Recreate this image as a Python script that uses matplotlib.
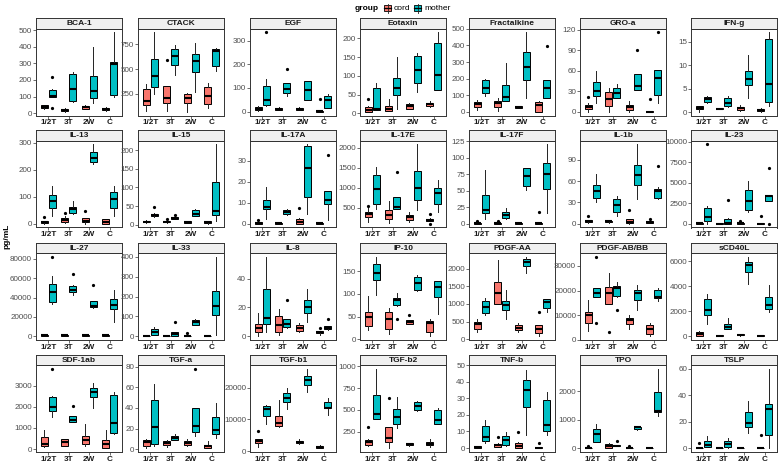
import numpy as np
import matplotlib.pyplot as plt
from matplotlib.patches import Rectangle
from matplotlib.lines import Line2D

plt.rcParams['font.family'] = ['Liberation Sans', 'DejaVu Sans']

times = ['1/2T', '3T', '2W', 'C']
groups = ['cord', 'mother']
colors = ['#F8766D', '#00BFC4']

# box stats per time point: [low whisker, q1, median, q3, high whisker]
# outliers: (time index, group index, value)
bca1_cord = [[28, 33, 40, 47, 52], [10, 12, 22, 28, 30], [25, 28, 38, 44, 50], [14, 18, 28, 34, 40]]
bca1_mother = [[95, 98, 105, 138, 148], [67, 73, 143, 238, 246], [63, 89, 133, 226, 399], [97, 109, 296, 311, 486]]
bca1_out = [(0, 1, 218), (0, 1, 30)]
bca1_ticks = [0, 100, 200, 300, 400, 500]

ctack_cord = [[72, 132, 181, 296, 349], [80, 155, 210, 325, 330], [70, 155, 205, 245, 260], [108, 151, 224, 316, 355]]
ctack_mother = [[245, 320, 434, 605, 870], [440, 540, 630, 700, 745], [265, 470, 580, 655, 765], [480, 535, 680, 705, 710]]
ctack_out = [(1, 0, 590)]
ctack_ticks = [250, 500, 750]

egf_cord = [[3, 7, 12, 18, 24], [5, 7, 12, 17, 20], [5, 8, 12, 15, 18], [0, 0, 1, 4, 5]]
egf_mother = [[24, 28, 49, 110, 138], [66, 77, 96, 119, 122], [49, 49, 91, 128, 128], [17, 17, 49, 66, 76]]
egf_out = [(0, 1, 335), (1, 1, 182), (3, 0, 52)]
egf_ticks = [0, 100, 200, 300]

eotaxin_cord = [[5, 5, 9, 18, 20], [7, 7, 13, 20, 38], [12, 13, 19, 24, 27], [17, 20, 25, 29, 32]]
eotaxin_mother = [[9, 10, 11, 68, 80], [13, 49, 68, 95, 151], [57, 80, 117, 152, 160], [63, 63, 103, 189, 216]]
eotaxin_out = [(0, 0, 39)]
eotaxin_ticks = [0, 50, 100, 150, 200]

fract_cord = [[12, 26, 46, 60, 68], [6, 26, 52, 62, 80], [20, 22, 28, 34, 35], [0, 0, 40, 60, 62]]
fract_mother = [[95, 111, 145, 191, 195], [62, 62, 91, 161, 294], [82, 189, 270, 360, 479], [82, 82, 145, 191, 191]]
fract_out = [(3, 1, 398)]
fract_ticks = [0, 100, 200, 300, 400, 500]

groa_cord = [[0, 4, 6, 10, 12], [0, 8, 19, 29, 34], [0, 3, 7, 10, 16], [0, 0, 0, 1, 1]]
groa_mother = [[13, 23, 30, 44, 59], [20, 20, 27, 34, 41], [32, 32, 37, 55, 55], [13, 25, 49, 61, 61]]
groa_out = [(0, 0, 21), (2, 1, 90), (3, 0, 19), (3, 1, 116)]
groa_ticks = [0, 30, 60, 90, 120]

ifng_cord = [[0.2, 0.7, 0.9, 1.3, 1.3], [0.7, 0.75, 0.8, 0.9, 0.9], [0.35, 0.6, 0.9, 1.2, 1.6], [0.2, 0.4, 0.5, 0.8, 0.9]]
ifng_mother = [[2.0, 2.2, 2.8, 3.2, 3.5], [1.1, 1.4, 2.1, 3.0, 3.6], [3.0, 5.8, 7.1, 8.9, 12.3], [1.4, 2.3, 6.1, 15.6, 17.0]]
ifng_out = []
ifng_ticks = [0, 5, 10, 15]

il13_cord = [[0, 2, 5, 9, 10], [2, 7, 13, 22, 29], [0, 5, 11, 20, 22], [0, 0, 5, 17, 17]]
il13_mother = [[27, 56, 82, 107, 139], [34, 38, 54, 63, 82], [222, 227, 244, 267, 294], [27, 56, 93, 117, 141]]
il13_out = [(0, 0, 23), (1, 0, 41), (2, 0, 47)]
il13_ticks = [0, 100, 200, 300]

il15_cord = [[4, 6, 8, 10, 12], [4, 6, 8, 10, 12], [4, 5, 8, 10, 11], [3, 5, 7, 9, 10]]
il15_mother = [[21, 23, 26, 28, 30], [14, 15, 18, 20, 22], [22, 22, 29, 38, 43], [9, 25, 37, 114, 215]]
il15_out = [(0, 1, 47), (1, 0, 14), (1, 1, 25)]
il15_ticks = [0, 50, 100, 150, 200]

il17a_cord = [[0, 0, 0.4, 0.8, 1.0], [0, 0, 0.05, 0.1, 0.3], [0, 0, 0.6, 2.1, 2.5], [0, 0, 0.1, 0.1, 0.3]]
il17a_mother = [[2.1, 6.9, 8.1, 11.3, 17.3], [4.2, 4.4, 5.6, 6.5, 7.1], [4.5, 12.6, 26.4, 37.0, 37.9], [1.9, 9.2, 11.3, 15.6, 15.6]]
il17a_out = [(0, 0, 1.9), (2, 0, 7.3), (3, 1, 32.7)]
il17a_ticks = [0, 10, 20, 30]

il17e_cord = [[139, 262, 328, 385, 484], [123, 205, 303, 426, 672], [139, 189, 262, 320, 385], [150, 164, 197, 221, 230]]
il17e_mother = [[467, 590, 975, 1328, 1516], [467, 467, 508, 754, 754], [426, 689, 1000, 1410, 2082], [385, 590, 852, 1000, 1189]]
il17e_out = [(0, 0, 549), (1, 1, 1393), (3, 0, 344), (3, 0, 98)]
il17e_ticks = [500, 1000, 1500, 2000]

il17f_cord = [[0, 0, 0.5, 1, 1.5], [0, 0, 0.5, 1, 1.5], [0, 0, 1, 1.5, 2], [0, 0, 0.2, 0.5, 0.8]]
il17f_mother = [[6.5, 15.5, 20.5, 43, 81.5], [6.5, 9, 13, 17.5, 24], [51.5, 56.5, 71.5, 85, 85], [16.5, 53, 75, 91.5, 120]]
il17f_out = [(0, 0, 4), (1, 0, 3.5), (3, 0, 17.5)]
il17f_ticks = [0, 25, 50, 75, 100, 125]

il1b_cord = [[1, 1.9, 3.3, 4.6, 5], [1, 1.9, 3.3, 4.2, 5], [0, 0.5, 2.8, 6, 6.5], [0.5, 0.9, 2.3, 3.7, 5]]
il1b_mother = [[30, 36, 45.6, 54, 70], [10.7, 16.7, 26, 34, 38.6], [34, 54, 68, 83, 111.6], [34, 36, 46.5, 49, 51]]
il1b_out = [(0, 0, 10.7), (2, 0, 19), (3, 0, 6), (3, 1, 80.5)]
il1b_ticks = [0, 30, 60, 90]

il23_cord = [[0, 0, 10, 40, 60], [0, 0, 5, 20, 40], [0, 0, 10, 40, 60], [0, 0, 5, 20, 40]]
il23_mother = [[0, 282, 847, 1935, 2137], [0, 0, 120, 605, 725], [1411, 1653, 2742, 4073, 5161], [2702, 2702, 3427, 3548, 3548]]
il23_out = [(0, 1, 9677), (1, 1, 2862), (2, 0, 322), (3, 0, 900), (3, 1, 6774), (3, 1, 0)]
il23_ticks = [0, 2500, 5000, 7500, 10000]

il27_cord = [[150, 400, 800, 1200, 1500], [200, 500, 900, 1300, 1600], [300, 600, 1100, 1500, 1800], [200, 500, 900, 1300, 1600]]
il27_mother = [[33500, 35600, 45400, 54200, 62700], [43000, 45800, 47800, 51500, 53200], [28800, 30200, 31200, 36900, 36900], [14900, 27800, 31900, 38300, 48100]]
il27_out = [(0, 1, 82000), (1, 1, 64000), (2, 1, 53200)]
il27_ticks = [0, 20000, 40000, 60000, 80000]

il33_cord = [[0, 0, 0.5, 1, 3], [0, 0, 1, 2, 3], [0, 0, 1, 2, 3], [0, 0, 1, 2, 3]]
il33_mother = [[3, 5, 22, 35, 45], [2, 2, 8, 22, 22], [55, 58, 72, 83, 88], [3, 108, 153, 230, 400]]
il33_out = [(1, 1, 72), (2, 0, 13)]
il33_ticks = [0, 100, 200, 300, 400]

il8_cord = [[0, 2.5, 5.3, 8.7, 16.3], [0.7, 2.5, 7.6, 14, 18.6], [2.5, 3.7, 5.3, 7.8, 9.2], [1, 1.8, 2.5, 3.2, 3.5]]
il8_mother = [[2.5, 8.7, 12.4, 33, 55.4], [5.5, 6.4, 8.3, 12.2, 12.2], [10, 16.3, 20.2, 25.5, 33], [4.3, 4.6, 5.7, 6.9, 7]]
il8_out = [(1, 1, 25.5), (3, 0, 5.5), (3, 1, 12)]
il8_ticks = [0, 20, 40]

ip10_cord = [[21, 29, 48, 61, 96], [11, 23, 44, 59, 69], [33, 34, 38, 42, 43], [7, 17, 36, 40, 44]]
ip10_mother = [[97, 131, 146, 166, 181], [74, 76, 86, 91, 102], [107, 109, 123, 138, 142], [55, 92, 116, 128, 128]]
ip10_out = [(1, 1, 45), (2, 0, 53)]
ip10_ticks = [0, 50, 100, 150]

pdgfaa_cord = [[205, 298, 419, 493, 586], [1005, 1005, 1302, 1609, 2233], [214, 251, 326, 400, 465], [93, 186, 279, 391, 391]]
pdgfaa_mother = [[698, 744, 912, 1070, 1181], [586, 837, 977, 1070, 1395], [1860, 2074, 2186, 2279, 2326], [772, 884, 1051, 1144, 1144]]
pdgfaa_out = [(3, 0, 772)]
pdgfaa_ticks = [0, 500, 1000, 1500, 2000]

pdgfbb_cord = [[3600, 6900, 10270, 11300, 16300], [14500, 14500, 18900, 21600, 27300], [4500, 6300, 7900, 8900, 10000], [1600, 2500, 4500, 5900, 6900]]
pdgfbb_mother = [[17200, 17200, 18900, 20900, 21200], [17600, 18000, 21200, 21900, 23600], [12300, 16300, 18900, 20300, 22300], [15600, 16900, 17200, 20300, 21200]]
pdgfbb_out = [(0, 1, 33600), (0, 1, 7000), (1, 0, 3300), (1, 1, 12000)]
pdgfbb_ticks = [0, 10000, 20000, 30000]

scd40l_cord = [[0, 0, 160, 290, 400], [0, 0, 30, 50, 60], [30, 50, 100, 160, 180], [0, 0, 30, 80, 120]]
scd40l_mother = [[960, 1680, 2070, 2950, 3400], [530, 530, 690, 930, 1460], [4200, 5130, 5660, 5930, 6330], [1890, 2130, 2470, 3140, 4070]]
scd40l_out = []
scd40l_ticks = [0, 2000, 4000, 6000]

sdf1_cord = [[78, 125, 234, 560, 906], [125, 125, 312, 470, 470], [156, 234, 437, 640, 1170], [47, 47, 234, 437, 906]]
sdf1_mother = [[1500, 1800, 2000, 2470, 2500], [1300, 1300, 1400, 1560, 1560], [1950, 2470, 2700, 2890, 3125], [720, 750, 1250, 2550, 2700]]
sdf1_out = [(0, 1, 3800), (1, 1, 2050)]
sdf1_ticks = [0, 1000, 2000, 3000]

tgfa_cord = [[1, 3.2, 6.8, 9, 9.7], [2, 3.5, 5.8, 7.4, 8.5], [2.6, 3.5, 5.5, 7.4, 9.4], [1, 1, 2.6, 4.2, 7.4]]
tgfa_mother = [[3.2, 5.2, 21.3, 47.7, 62.9], [9, 9, 11, 12.3, 15], [12.3, 16.5, 22.6, 40.3, 40.3], [10.6, 14.5, 18.7, 31.6, 45]]
tgfa_out = [(2, 1, 78)]
tgfa_ticks = [0, 20, 40, 60, 80]

tgfb1_cord = [[1350, 2600, 3300, 4000, 4000], [7600, 7800, 9000, 11200, 16100], [2300, 2600, 2800, 3100, 3900], [1000, 1140, 1450, 1760, 1900]]
tgfb1_mother = [[8600, 11100, 13200, 14200, 14500], [13200, 15500, 16900, 18400, 19900], [18700, 20700, 22300, 23600, 25900], [11400, 13500, 13700, 15500, 16800]]
tgfb1_out = [(0, 0, 6500)]
tgfb1_ticks = [0, 10000, 20000]

tgfb2_cord = [[80, 98, 129, 152, 167], [61, 129, 182, 300, 300], [90, 95, 102, 114, 118], [68, 91, 110, 133, 167]]
tgfb2_mother = [[390, 394, 451, 670, 970], [288, 337, 420, 515, 652], [485, 496, 545, 591, 602], [333, 337, 383, 504, 523]]
tgfb2_out = [(0, 0, 303), (1, 0, 640)]
tgfb2_ticks = [250, 500, 750, 1000]

tnfb_cord = [[0, 0.2, 0.7, 1.1, 1.3], [0.5, 0.7, 2, 2.6, 3], [0, 0.2, 1.5, 3.3, 3.5], [0, 0, 0.3, 0.5, 0.5]]
tnfb_mother = [[2.9, 4.2, 6.4, 13, 16.8], [1.5, 2, 5.1, 7.1, 9.9], [8, 25, 35, 41, 47], [7.8, 10, 13.6, 29, 33.6]]
tnfb_out = [(1, 0, 6.8), (2, 0, 9.7), (3, 0, 2.9)]
tnfb_ticks = [0, 10, 20, 30, 40, 50]

tpo_cord = [[0, 0, 5, 15, 20], [0, 0, 60, 141, 176], [0, 0, 3, 10, 15], [0, 0, 3, 8, 10]]
tpo_mother = [[210, 210, 494, 670, 847], [60, 60, 80, 106, 110], [647, 682, 729, 741, 741], [1118, 1259, 1318, 1965, 2790]]
tpo_out = [(0, 0, 80), (1, 1, 235), (2, 0, 60)]
tpo_ticks = [0, 1000, 2000]

tslp_cord = [[0, 0, 0, 0.3, 0.5], [0, 0, 0, 0.2, 0.3], [0, 0, 0, 0.2, 0.3], [0, 0, 0, 0.2, 0.3]]
tslp_mother = [[0.5, 1, 2.5, 5.5, 8.8], [0, 0.5, 3, 5, 7.5], [11.3, 16.3, 19.3, 27.5, 35.5], [0, 10, 29.3, 33.5, 60]]
tslp_out = [(0, 0, 3.5), (3, 0, 10)]
tslp_ticks = [0, 20, 40, 60]

panels = [
    ('BCA-1', bca1_cord, bca1_mother, bca1_out, bca1_ticks),
    ('CTACK', ctack_cord, ctack_mother, ctack_out, ctack_ticks),
    ('EGF', egf_cord, egf_mother, egf_out, egf_ticks),
    ('Eotaxin', eotaxin_cord, eotaxin_mother, eotaxin_out, eotaxin_ticks),
    ('Fractalkine', fract_cord, fract_mother, fract_out, fract_ticks),
    ('GRO-a', groa_cord, groa_mother, groa_out, groa_ticks),
    ('IFN-g', ifng_cord, ifng_mother, ifng_out, ifng_ticks),
    ('IL-13', il13_cord, il13_mother, il13_out, il13_ticks),
    ('IL-15', il15_cord, il15_mother, il15_out, il15_ticks),
    ('IL-17A', il17a_cord, il17a_mother, il17a_out, il17a_ticks),
    ('IL-17E', il17e_cord, il17e_mother, il17e_out, il17e_ticks),
    ('IL-17F', il17f_cord, il17f_mother, il17f_out, il17f_ticks),
    ('IL-1b', il1b_cord, il1b_mother, il1b_out, il1b_ticks),
    ('IL-23', il23_cord, il23_mother, il23_out, il23_ticks),
    ('IL-27', il27_cord, il27_mother, il27_out, il27_ticks),
    ('IL-33', il33_cord, il33_mother, il33_out, il33_ticks),
    ('IL-8', il8_cord, il8_mother, il8_out, il8_ticks),
    ('IP-10', ip10_cord, ip10_mother, ip10_out, ip10_ticks),
    ('PDGF-AA', pdgfaa_cord, pdgfaa_mother, pdgfaa_out, pdgfaa_ticks),
    ('PDGF-AB/BB', pdgfbb_cord, pdgfbb_mother, pdgfbb_out, pdgfbb_ticks),
    ('sCD40L', scd40l_cord, scd40l_mother, scd40l_out, scd40l_ticks),
    ('SDF-1ab', sdf1_cord, sdf1_mother, sdf1_out, sdf1_ticks),
    ('TGF-a', tgfa_cord, tgfa_mother, tgfa_out, tgfa_ticks),
    ('TGF-b1', tgfb1_cord, tgfb1_mother, tgfb1_out, tgfb1_ticks),
    ('TGF-b2', tgfb2_cord, tgfb2_mother, tgfb2_out, tgfb2_ticks),
    ('TNF-b', tnfb_cord, tnfb_mother, tnfb_out, tnfb_ticks),
    ('TPO', tpo_cord, tpo_mother, tpo_out, tpo_ticks),
    ('TSLP', tslp_cord, tslp_mother, tslp_out, tslp_ticks),
]

W, H = 780, 463
fig = plt.figure(figsize=(W / 100, H / 100), dpi=100)

def px_axes(left, top, width, height):
    return fig.add_axes([left / W, 1 - (top + height) / H, width / W, height / H])

col_left = [36, 138, 250, 360, 469, 580, 691]
row_bottom = [115.5, 227.5, 340, 452]
pw, ph, sh = 86, 87, 10.5
edge = '#333333'

for i, (name, cord, mother, out, ticks) in enumerate(panels):
    r, c = divmod(i, 7)
    left, bottom = col_left[c], row_bottom[r]
    ax = px_axes(left, bottom - ph, pw, ph)
    allvals = []
    for g, stats in enumerate([cord, mother]):
        pos = np.arange(4) + (-0.1875 if g == 0 else 0.1875)
        bx = []
        for t, s in enumerate(stats):
            fl = [v for (tt, gg, v) in out if tt == t and gg == g]
            bx.append(dict(whislo=s[0], q1=s[1], med=s[2], q3=s[3], whishi=s[4], fliers=fl))
            allvals += list(s) + fl
        ax.bxp(bx, positions=pos, widths=0.34, patch_artist=True, showcaps=False,
               boxprops=dict(facecolor=colors[g], edgecolor='black', linewidth=0.7),
               medianprops=dict(color='black', linewidth=1.5),
               whiskerprops=dict(color='#222222', linewidth=0.7),
               flierprops=dict(marker='o', markerfacecolor='black', markeredgecolor='black',
                               markersize=1.3, linestyle='none'))
    lo, hi = min(allvals), max(allvals)
    pad = (hi - lo) * 0.05
    ax.set_ylim(lo - pad, hi + pad)
    ax.set_xlim(-0.6, 3.6)
    ax.set_yticks(ticks)
    ax.set_yticklabels([str(t) for t in ticks])
    ax.set_xticks(range(4))
    ax.set_xticklabels(times, fontweight='bold')
    ax.tick_params(axis='y', labelsize=5.8, length=2, width=0.5, pad=0.8, colors=edge, labelcolor='#4D4D4D')
    ax.tick_params(axis='x', labelsize=5.9, length=2, width=0.5, pad=0.6, colors=edge, labelcolor='#1A1A1A')
    for sp in ax.spines.values():
        sp.set_color(edge)
        sp.set_linewidth(0.7)

    sax = px_axes(left, bottom - ph - sh, pw, sh)
    sax.set_facecolor('#F0F0F0')
    sax.set_xticks([])
    sax.set_yticks([])
    for sp in sax.spines.values():
        sp.set_color(edge)
        sp.set_linewidth(0.7)
    sax.text(0.5, 0.45, name, ha='center', va='center', fontsize=6, fontweight='bold',
             color='#1A1A1A', transform=sax.transAxes)

fig.text(7 / W, 1 - 236 / H, 'pg/mL', rotation=90, ha='center', va='center',
         fontsize=6, fontweight='bold')

# legend along the top
ly = 1 - 8 / H
fig.text(355 / W, ly, 'group', ha='left', va='center', fontsize=6, fontweight='bold')
for k, (x0, label) in enumerate([(384, 'cord'), (414, 'mother')]):
    fig.add_artist(Line2D([(x0 + 3.5) / W] * 2, [1 - 3.5 / H, 1 - 12.5 / H], color='#222222', lw=0.6))
    fig.add_artist(Rectangle((x0 / W, 1 - 11 / H), 7 / W, 6 / H, facecolor=colors[k],
                             edgecolor='black', lw=0.6))
    fig.add_artist(Line2D([x0 / W, (x0 + 7) / W], [ly, ly], color='black', lw=0.9))
    fig.text((x0 + 10) / W, ly, label, ha='left', va='center', fontsize=6)

fig.savefig('out.png', dpi=100)
